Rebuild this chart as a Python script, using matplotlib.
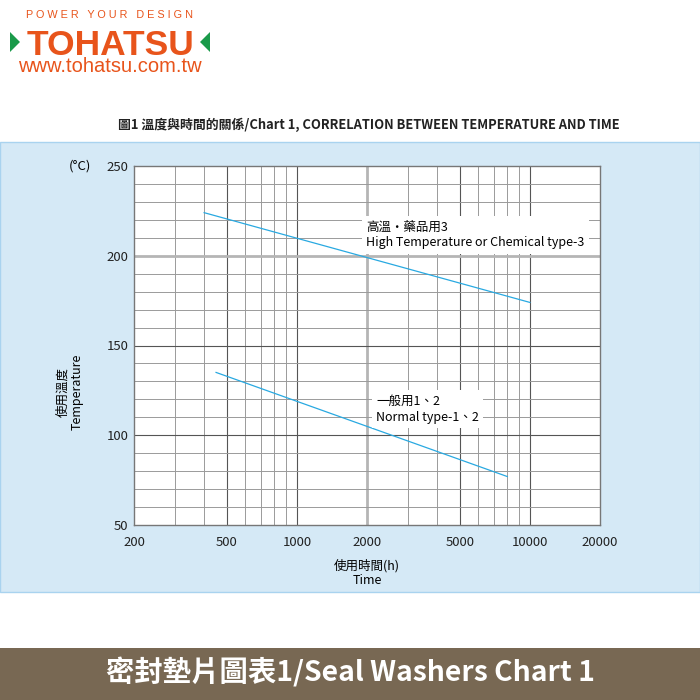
import matplotlib.pyplot as plt
import matplotlib.patches as patches
import numpy as np

plt.rcParams['font.family'] = ['Noto Sans CJK TC', 'DejaVu Sans']

# data
hours_high = [400, 10000]
temp_high = [224, 174]
hours_normal = [450, 8000]
temp_normal = [135, 77]

xticks = [200, 500, 1000, 2000, 5000, 10000, 20000]
xtick_labels = ['200', '500', '1000', '2000', '5000', '10000', '20000']
yticks = [50, 100, 150, 200, 250]

line_color = '#29a9e1'

fig = plt.figure(figsize=(7, 7), dpi=100)

# light blue panel
fig.patches.append(patches.Rectangle((0, 1 - 592 / 700), 1, 450 / 700, transform=fig.transFigure,
                                     facecolor='#d5e9f6', edgecolor='#a9d3ef', linewidth=1, zorder=-10))
# brown footer
fig.patches.append(patches.Rectangle((0, 0), 1, 52 / 700, transform=fig.transFigure,
                                     facecolor='#786853', edgecolor='none', zorder=-10))
fig.text(0.5, 28 / 700, '密封墊片圖表1/Seal Washers Chart 1', color='white', fontsize=20.4,
         fontweight='bold', ha='center', va='center')

# logo
fig.text(110 / 700, 1 - 15 / 700, 'P O W E R   Y O U R   D E S I G N', color='#e8541b', fontsize=7.8,
         family='Liberation Sans', ha='center', va='center')
fig.text(111 / 700, 1 - 55 / 700, 'TOHATSU', color='#e8541b', fontsize=25.5, fontweight='bold',
         family='Liberation Sans', ha='center', va='baseline')
fig.text(110 / 700, 1 - 72 / 700, 'www.tohatsu.com.tw', color='#e8541b', fontsize=14.5,
         family='Liberation Sans', ha='center', va='baseline')
fig.patches.append(patches.Polygon([(10 / 700, 1 - 32 / 700), (20 / 700, 1 - 42 / 700), (10 / 700, 1 - 52 / 700)],
                                   closed=True, transform=fig.transFigure, facecolor='#1a9a4a', edgecolor='none'))
fig.patches.append(patches.Polygon([(210 / 700, 1 - 32 / 700), (200 / 700, 1 - 42 / 700), (210 / 700, 1 - 52 / 700)],
                                   closed=True, transform=fig.transFigure, facecolor='#1a9a4a', edgecolor='none'))

fig.text(369 / 700, 1 - 125 / 700, '圖1 溫度與時間的關係/Chart 1, CORRELATION BETWEEN TEMPERATURE AND TIME',
         fontsize=9.3, fontweight='bold', ha='center', va='center', color='#222222')

ax = fig.add_axes([134 / 700, 1 - 525 / 700, 466 / 700, 359 / 700])
ax.set_facecolor('white')
ax.set_xscale('log')
ax.set_xlim(200, 20000)
ax.set_ylim(50, 250)

# grid
minor_x = [300, 400, 600, 700, 800, 900, 3000, 4000, 6000, 7000, 8000, 9000]
for v in minor_x:
    ax.axvline(v, color='#9a9a9a', lw=0.7, zorder=1)
for v in [500, 1000, 5000, 10000]:
    ax.axvline(v, color='#555555', lw=0.8, zorder=1)
ax.axvline(2000, color='#b5b5b5', lw=2, zorder=1)
for v in range(60, 250, 10):
    if v % 50:
        ax.axhline(v, color='#9a9a9a', lw=0.7, zorder=1)
for v in [100, 150]:
    ax.axhline(v, color='#555555', lw=0.8, zorder=1)
ax.axhline(200, color='#b5b5b5', lw=2, zorder=1)

ax.plot(hours_high, temp_high, color=line_color, lw=0.9, zorder=3)
ax.plot(hours_normal, temp_normal, color=line_color, lw=0.9, zorder=3)

ax.text(366 / 700, 1 - 235 / 700, '高溫・藥品用3\nHigh Temperature or Chemical type-3', transform=fig.transFigure,
        fontsize=9, va='center', ha='left', linespacing=1.3, zorder=4,
        bbox=dict(facecolor='white', edgecolor='none', pad=3))
ax.text(376 / 700, 1 - 409 / 700, '一般用1、2\nNormal type-1、2', transform=fig.transFigure,
        fontsize=9, va='center', ha='left', linespacing=1.3, zorder=4,
        bbox=dict(facecolor='white', edgecolor='none', pad=3))

ax.set_xticks(xticks)
ax.set_xticklabels(xtick_labels)
ax.xaxis.set_minor_locator(plt.NullLocator())
ax.set_yticks(yticks)
ax.tick_params(length=0, labelsize=9.5, colors='#222222')
ax.tick_params(axis='x', pad=8)
ax.tick_params(axis='y', pad=4)
for s in ax.spines.values():
    s.set_color('#777777')
    s.set_linewidth(1)

fig.text(80 / 700, 1 - 166 / 700, '(°C)', fontsize=9.5, ha='center', va='center')
fig.text(70 / 700, 1 - 392 / 700, '使用溫度\nTemperature', fontsize=9, rotation=90,
         ha='center', va='center', linespacing=1.2)
fig.text(367 / 700, 1 - 573 / 700, '使用時間(h)\nTime', fontsize=9, ha='center', va='center',
         linespacing=1.2)

plt.savefig('out.png', dpi=100)
